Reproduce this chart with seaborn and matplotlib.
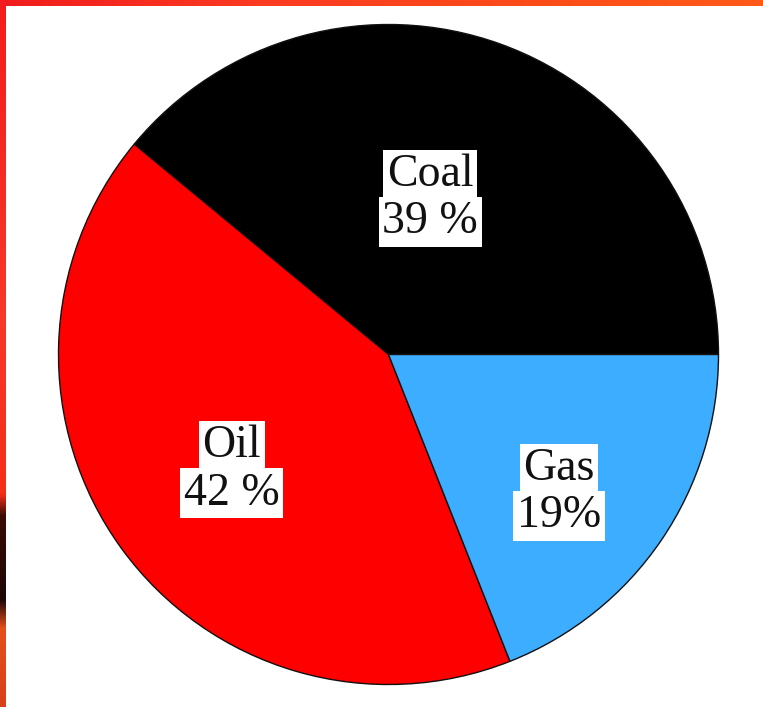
import numpy as np
import seaborn as sns
import matplotlib.pyplot as plt
from matplotlib.colors import LinearSegmentedColormap

# data
sources = ["Coal", "Oil", "Gas"]
shares = [39, 42, 19]
pct_labels = ["39 %", "42 %", "19%"]
colors = ["#000000", "#ff0000", "#3dadff"]

# where each label sits inside its wedge (fraction of radius, angle nudge in deg)
label_r = [0.49, 0.59, 0.665]
label_nudge = [4.8, 0.3, -4.8]

sns.set_theme(style="white")
plt.rcParams["font.family"] = ["Liberation Serif", "DejaVu Serif"]

W, H = 763, 707
fig = plt.figure(figsize=(W / 100, H / 100), dpi=100)
fig.patch.set_facecolor("white")

# pie axes, sized so the circle lands where it is in the picture
R = 330
cx, cy = 388.5, H - 354.5
ax = fig.add_axes([(cx - R) / W, (cy - R) / H, 2 * R / W, 2 * R / H])
wedges, _ = ax.pie(shares, colors=sns.color_palette(colors), startangle=0,
                   counterclock=True,
                   wedgeprops=dict(edgecolor="#111111", linewidth=1.0))
ax.set_xlim(-1, 1)
ax.set_ylim(-1, 1)
ax.set_aspect("equal")
ax.axis("off")

box = dict(facecolor="white", edgecolor="none", boxstyle="square,pad=0.08")
for w, name, pct, r, nd in zip(wedges, sources, pct_labels, label_r, label_nudge):
    ang = np.deg2rad((w.theta1 + w.theta2) / 2 + nd)
    x, y = r * np.cos(ang), r * np.sin(ang)
    ax.annotate(name, (x, y), xytext=(0, 17), textcoords="offset points",
                ha="center", va="center", fontsize=33, color="#111111", bbox=box)
    ax.annotate(pct, (x, y), xytext=(0, -17), textcoords="offset points",
                ha="center", va="center", fontsize=33, color="#111111", bbox=box)

# slide frame: red/orange strips on top and left
top_cmap = LinearSegmentedColormap.from_list("top", ["#f01c1c", "#fb3a22", "#fa4a1a", "#ff5a18"])
bt = fig.add_axes([0, 1 - 6 / H, 1, 6 / H])
bt.imshow(np.linspace(0, 1, 256)[None, :], aspect="auto", cmap=top_cmap)
bt.axis("off")

left_cmap = LinearSegmentedColormap.from_list(
    "left", [(0, "#f21d1d"), (0.45, "#f7382a"), (0.7, "#f52e18"),
             (0.73, "#3a0c05"), (0.85, "#1e0504"), (0.89, "#e4501c"), (1, "#d8401a")])
bl = fig.add_axes([0, 0, 6 / W, 1])
bl.imshow(np.linspace(0, 1, 256)[:, None], aspect="auto", cmap=left_cmap)
bl.axis("off")

plt.savefig("out.png", dpi=100)
